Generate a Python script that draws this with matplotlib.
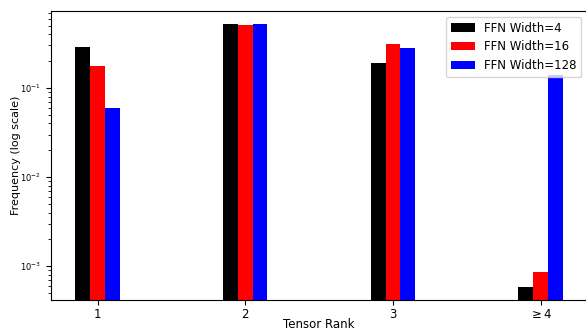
import matplotlib
matplotlib.use('Agg')
import matplotlib.pyplot as plt
import numpy as np

ranks = ['1', '2', '3', r'$\geq 4$']
labels = ['FFN Width=4', 'FFN Width=16', 'FFN Width=128']
colors = ['black', 'red', 'blue']
width4 = [0.29, 0.52, 0.19, 0.00058]
width16 = [0.178, 0.505, 0.31, 0.00087]
width128 = [0.059, 0.52, 0.278, 0.141]

x = np.arange(1, len(ranks) + 1)
w = 0.1

fig = plt.figure(figsize=(5.86, 3.31), dpi=100)
ax = fig.add_axes([0.087, 0.094, 0.915, 0.873])

for i, (vals, lab, c) in enumerate(zip([width4, width16, width128], labels, colors)):
    ax.bar(x + (i - 1) * w, vals, width=w, color=c, label=lab)

ax.set_yscale('log')
ax.set_ylim(4.2e-4, 0.73)
ax.set_xticks(x)
ax.set_xticklabels(ranks, fontsize=8.5)
ax.tick_params(axis='x', pad=2)
ax.tick_params(axis='y', labelsize=6)
ax.set_xlabel('Tensor Rank', fontsize=8.5)
ax.xaxis.set_label_coords(0.5, -0.086)
ax.xaxis.label.set_va('center')
ax.set_ylabel('Frequency (log scale)', fontsize=8)
ax.yaxis.set_label_coords(-0.056, 0.5)
ax.legend(loc='upper right', fontsize=8.5)

plt.savefig('out.png', dpi=100)
